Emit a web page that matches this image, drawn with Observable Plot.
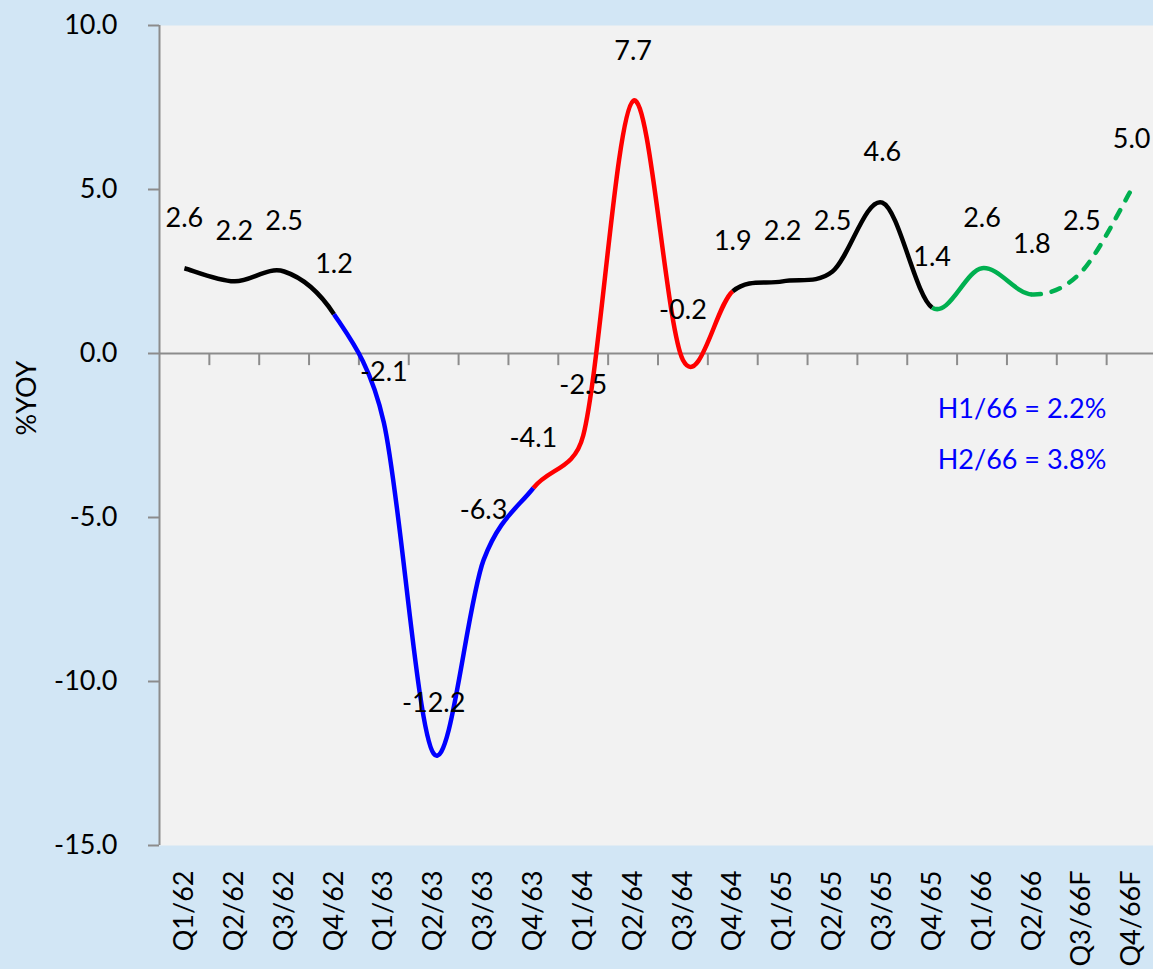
<!DOCTYPE html>
<html>
<head>
<meta charset="utf-8">
<script src="https://cdn.jsdelivr.net/npm/d3@7"></script>
<script src="https://cdn.jsdelivr.net/npm/@observablehq/plot@0.6"></script>
<style>
  html, body { margin: 0; padding: 0; background: #d2e6f5; }
  #chart svg { display: block; }
</style>
</head>
<body>
<div id="chart"></div>
<script>
const quarters = ["Q1/62","Q2/62","Q3/62","Q4/62","Q1/63","Q2/63","Q3/63","Q4/63","Q1/64","Q2/64","Q3/64","Q4/64","Q1/65","Q2/65","Q3/65","Q4/65","Q1/66","Q2/66","Q3/66F","Q4/66F"];
const values = [2.6, 2.2, 2.5, 1.2, -2.1, -12.2, -6.3, -4.1, -2.5, 7.7, -0.2, 1.9, 2.2, 2.5, 4.6, 1.4, 2.6, 1.8, 2.5, 5.0];
const yTicks = [-15, -10, -5, 0, 5, 10];
const segmentBreaks = [0, 3, 7, 11, 15, 17, 19];
const notes = ["H1/66 = 2.2%", "H2/66 = 3.8%"];

const data = quarters.map((q, i) => ({q, i, x: i + 0.5, v: values[i]}));
const n = data.length;

// Excel-like smoothing: Catmull-Rom Bezier handles (1/6 of neighbour chord),
// capped at half the segment length; ghost neighbour points can be skipped
function ghostCurve(skipFirst, skipLast) {
  return function(context) {
    let pts = [];
    const dist = (a, b) => Math.hypot(b[0] - a[0], b[1] - a[1]);
    const handle = (a, b, seg) => {
      let hx = (b[0] - a[0]) / 6, hy = (b[1] - a[1]) / 6;
      const L = Math.hypot(hx, hy), cap = seg * 0.5;
      if (L > cap && L > 0) { hx *= cap / L; hy *= cap / L; }
      return [hx, hy];
    };
    return {
      areaStart() {}, areaEnd() {},
      lineStart() { pts = []; },
      point(x, y) { pts.push([+x, +y]); },
      lineEnd() {
        const m = pts.length;
        const P = k => pts[Math.max(0, Math.min(m - 1, k))];
        const s = skipFirst ? 1 : 0;
        const e = skipLast ? m - 2 : m - 1;
        context.moveTo(pts[s][0], pts[s][1]);
        for (let k = s; k < e; k++) {
          const p0 = P(k - 1), p1 = P(k), p2 = P(k + 1), p3 = P(k + 2);
          const d12 = dist(p1, p2);
          const h1 = handle(p0, p2, d12), h2 = handle(p1, p3, d12);
          context.bezierCurveTo(
            p1[0] + h1[0], p1[1] + h1[1],
            p2[0] - h2[0], p2[1] - h2[1],
            p2[0], p2[1]);
        }
      }
    };
  };
}

const segStyles = [
  {stroke: "#000000"},
  {stroke: "#0000ff"},
  {stroke: "#ff0000"},
  {stroke: "#000000"},
  {stroke: "#00b050"},
  {stroke: "#00b050", strokeDasharray: "9,11", strokeLinecap: "round"}
];

const lineMarks = segStyles.map((st, k) => {
  const a = segmentBreaks[k], b = segmentBreaks[k + 1];
  const lo = Math.max(0, a - 1), hi = Math.min(n - 1, b + 1);
  return Plot.line(data.slice(lo, hi + 1), {
    x: "x", y: "v",
    curve: ghostCurve(a > 0, b < n - 1),
    strokeWidth: 4.5,
    strokeLinecap: "butt",
    ...st
  });
});

const boundaries = d3.range(1, n);

const plot = Plot.plot({
  width: 1153,
  height: 969,
  marginLeft: 159,
  marginRight: 0,
  marginTop: 25,
  marginBottom: 124,
  style: {fontFamily: "Lato, sans-serif", background: "#d2e6f5", color: "black"},
  x: {type: "linear", domain: [0, n], range: [159, 1156]},
  y: {domain: [-15, 10], range: [845, 25]},
  marks: [
    Plot.frame({fill: "#f2f2f2", stroke: null}),
    Plot.ruleY([0], {stroke: "#8c8c8c", strokeWidth: 2}),
    Plot.ruleX(boundaries, {x: d => d, y1: 0, y2: -0.37, stroke: "#8c8c8c", strokeWidth: 2}),
    Plot.ruleX([0], {y1: -15, y2: 10, stroke: "#8c8c8c", strokeWidth: 2}),
    Plot.axisY(yTicks, {
      tickFormat: d => d.toFixed(1), tickSize: 11, tickPadding: 31,
      stroke: "#8c8c8c", strokeWidth: 2, fill: "black", fontSize: 27, label: null
    }),
    Plot.axisX(data.map(d => d.x), {
      tickFormat: d => quarters[Math.round(d - 0.5)], tickRotate: -90,
      tickSize: 0, tickPadding: 25, fill: "black", fontSize: 27, label: null
    }),
    Plot.text(["%YOY"], {frameAnchor: "left", dx: -132, rotate: -90, fontSize: 27, fill: "black"}),
    ...lineMarks,
    Plot.text(data, {x: "x", y: "v", text: d => d.v.toFixed(1), dy: -50, fontSize: 27, fill: "black"}),
    Plot.text(notes, {x: [15.61, 15.61], y: [-1.71, -3.27], text: d => d, textAnchor: "start", fontSize: 27, fill: "#0000ff"})
  ]
});
document.getElementById("chart").appendChild(plot);
</script>
</body>
</html>
